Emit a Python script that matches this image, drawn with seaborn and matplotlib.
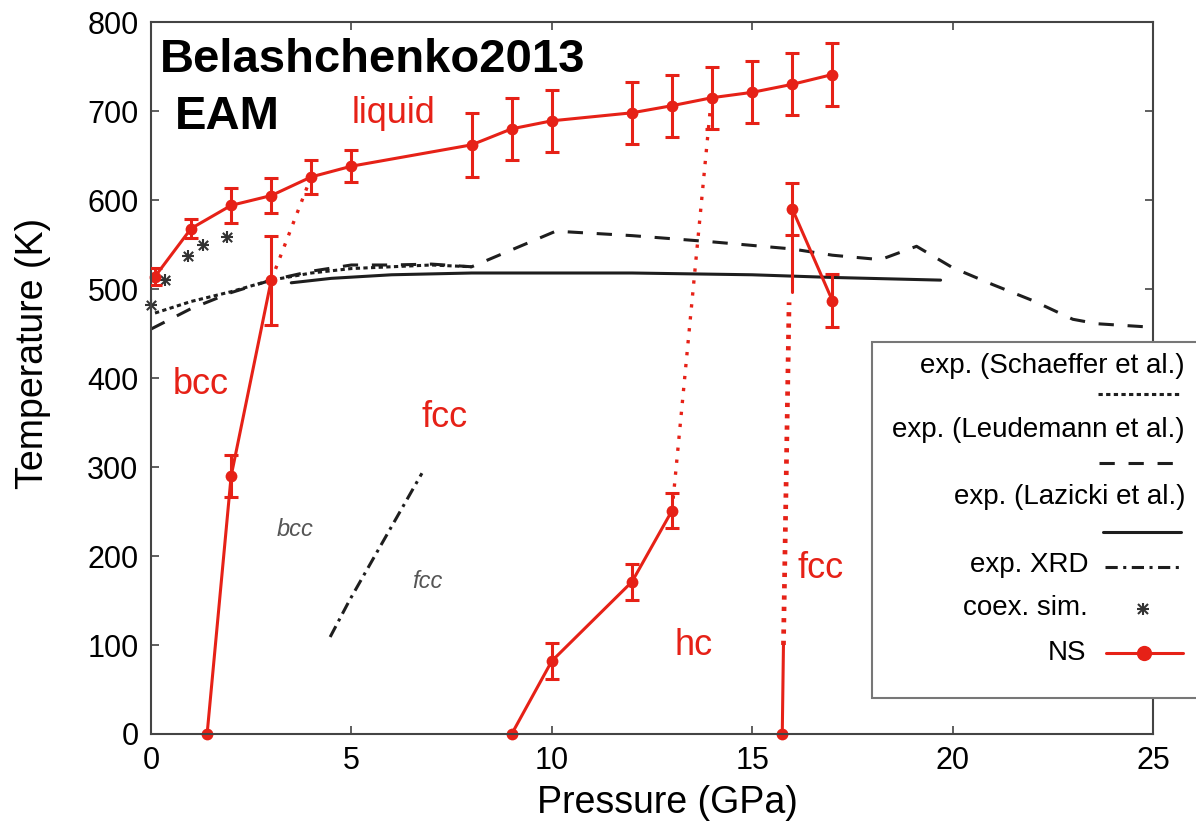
import matplotlib
matplotlib.use("Agg")
import matplotlib.pyplot as plt
import seaborn as sns
from matplotlib.lines import Line2D
from matplotlib.patches import Rectangle

# ---- data (pressure GPa, temperature K) ----
# nested sampling melting line
liq_p = [0.1, 1, 2, 3, 4, 5, 8, 9, 10, 12, 13, 14, 15, 16, 17]
liq_t = [514, 568, 594, 605, 626, 638, 662, 680, 689, 698, 706, 715, 721, 730, 741]
liq_err = [10, 11, 20, 20, 19, 18, 36, 35, 35, 35, 35, 35, 35, 35, 35]

# bcc-fcc boundary
bcc_p = [1.4, 2, 3]
bcc_t = [0, 290, 510]
bcc_err = [0, 24, 50]
bcc_liq_p = [3, 3.9]
bcc_liq_t = [510, 615]

# fcc-hcp boundary
hcp_p = [9, 10, 12, 13]
hcp_t = [0, 82, 171, 251]
hcp_err = [0, 20, 20, 20]
hcp_liq_p = [13, 13.95]
hcp_liq_t = [251, 700]

# high pressure fcc
fcc_p = [16, 17]
fcc_t = [590, 487]
fcc_err = [29, 30]
fcc_low_p = [15.75, 15.78]
fcc_low_t = [0, 100]
fcc_dot_p = [15.78, 15.92]
fcc_dot_t = [100, 485]
fcc_up_p = [16, 16]
fcc_up_t = [497, 590]

# experiments
schaeffer_p = [0.1, 1, 2, 3, 4, 5, 6, 7, 8]
schaeffer_t = [473, 486, 497, 510, 518, 523, 525, 527, 525]
leudemann_p = [0, 1, 2, 3, 4, 5, 6, 7, 8, 10.1, 12, 14, 16, 17, 18.2, 19.1, 20, 21, 22, 23, 23.6, 25]
leudemann_t = [455, 478, 496, 510, 520, 527, 527, 528, 525, 565, 560, 553, 545, 538, 533, 548, 524, 505, 487, 466, 461, 457]
lazicki_p = [3.5, 4.5, 6, 8, 12, 15, 17, 19.7]
lazicki_t = [507, 512, 516, 518, 518, 516, 513, 510]
xrd_p = [4.47, 4.95, 6.76]
xrd_t = [109, 150, 293]
coex_p = [0, 0.35, 0.92, 1.3, 1.9]
coex_t = [482, 510, 537, 549, 558]

RED = '#e62117'
INK = '#1e1e1e'

sns.set_style("ticks")
plt.rcParams['font.family'] = ['Liberation Sans', 'DejaVu Sans']
plt.rcParams['text.color'] = 'black'
plt.rcParams['axes.labelcolor'] = 'black'
plt.rcParams['xtick.labelcolor'] = 'black'
plt.rcParams['ytick.labelcolor'] = 'black'

fig = plt.figure(figsize=(11.96, 8.33), dpi=100)
ax = fig.add_axes([0.12625, 0.11885, 0.8378, 0.8547])

# experimental curves
sns.lineplot(x=schaeffer_p, y=schaeffer_t, ax=ax, color=INK, lw=2.2, sort=False,
             estimator=None, linestyle=(0, (1.4, 1.1)))
sns.lineplot(x=leudemann_p, y=leudemann_t, ax=ax, color=INK, lw=2.2, sort=False,
             estimator=None, linestyle=(0, (5, 4.5)))
sns.lineplot(x=lazicki_p, y=lazicki_t, ax=ax, color=INK, lw=2.2, sort=False, estimator=None)
sns.lineplot(x=xrd_p, y=xrd_t, ax=ax, color=INK, lw=2.2, sort=False, estimator=None,
             linestyle=(0, (4, 1.8, 1, 1.8)))
sns.scatterplot(x=coex_p, y=coex_t, ax=ax, marker='+', s=75, color='#333333', linewidth=1.5, clip_on=False)
sns.scatterplot(x=coex_p, y=coex_t, ax=ax, marker='x', s=45, color='#333333', linewidth=1.5, clip_on=False)

# NS lines
solid = dict(color=RED, lw=2.2, sort=False, estimator=None, clip_on=False)
dots = dict(marker='o', markersize=8.5, markeredgewidth=0)
sns.lineplot(x=liq_p, y=liq_t, ax=ax, **solid, **dots)
sns.lineplot(x=bcc_p, y=bcc_t, ax=ax, **solid, **dots)
sns.lineplot(x=hcp_p, y=hcp_t, ax=ax, **solid, **dots)
sns.lineplot(x=fcc_p, y=fcc_t, ax=ax, **solid, **dots)
sns.lineplot(x=fcc_low_p, y=fcc_low_t, ax=ax, **solid)
sns.lineplot(x=fcc_up_p, y=fcc_up_t, ax=ax, **solid)
sns.lineplot(x=fcc_low_p[:1], y=fcc_low_t[:1], ax=ax, **solid, **dots)
sns.lineplot(x=bcc_liq_p, y=bcc_liq_t, ax=ax, color=RED, lw=2.4, sort=False, estimator=None,
             linestyle=(0, (1, 2.6)))
sns.lineplot(x=hcp_liq_p, y=hcp_liq_t, ax=ax, color=RED, lw=2.4, sort=False, estimator=None,
             linestyle=(0, (1, 2.6)))
sns.lineplot(x=fcc_dot_p, y=fcc_dot_t, ax=ax, color=RED, lw=3.4, sort=False, estimator=None,
             linestyle=(0, (0.9, 1.5)), dash_capstyle='butt')

ebar = dict(fmt='none', ecolor=RED, elinewidth=2.2, capsize=5, capthick=2.2, zorder=3)
ax.errorbar(liq_p, liq_t, yerr=liq_err, **ebar)
ax.errorbar(bcc_p[1:], bcc_t[1:], yerr=bcc_err[1:], **ebar)
ax.errorbar(hcp_p[1:], hcp_t[1:], yerr=hcp_err[1:], **ebar)
ax.errorbar(fcc_p, fcc_t, yerr=fcc_err, **ebar)

# phase labels
ax.text(0.009, 0.930, "Belashchenko2013", transform=ax.transAxes, fontsize=34,
        fontweight='bold', va='baseline')
ax.text(0.024, 0.850, "EAM", transform=ax.transAxes, fontsize=34,
        fontweight='bold', va='baseline')
ax.text(5.01, 687, "liquid", color=RED, fontsize=26, va='baseline')
ax.text(0.55, 382, "bcc", color=RED, fontsize=26, va='baseline')
ax.text(6.76, 345, "fcc", color=RED, fontsize=26, va='baseline')
ax.text(13.07, 89, "hc", color=RED, fontsize=26, va='baseline')
ax.text(16.12, 175, "fcc", color=RED, fontsize=26, va='baseline')
ax.text(3.14, 222, "bcc", color='#555555', fontsize=17, style='italic', va='baseline')
ax.text(6.51, 164, "fcc", color='#555555', fontsize=17, style='italic', va='baseline')

ax.set_xlim(0, 25)
ax.set_ylim(0, 800)
ax.set_xticks(range(0, 26, 5))
ax.set_yticks(range(0, 801, 100))
ax.tick_params(direction='in', length=6, width=1.2, top=True, right=True,
               labelsize=22, pad=9, color='#444444')
for s in ax.spines.values():
    s.set_color('#444444')
    s.set_linewidth(1.5)
ax.set_xlabel("Pressure (GPa)", fontsize=27)
ax.set_ylabel("Temperature (K)", fontsize=27)
ax.xaxis.set_label_coords((667 - 151) / 1002, -0.072)
ax.yaxis.set_label_coords(-0.100, 0.535)


# ---- hand-made legend box (gnuplot style) ----
def fx(px):
    return px / 1196


def fy(py):
    return 1 - py / 833


fig.add_artist(Rectangle((fx(872), fy(698)), fx(340), (698 - 342) / 833,
                         transform=fig.transFigure, facecolor='white',
                         edgecolor='#777777', lw=1.5, zorder=5))
entries = [("exp. (Schaeffer et al.)", 1185, 366),
           ("exp. (Leudemann et al.)", 1185, 430),
           ("exp. (Lazicki et al.)", 1185, 497),
           ("exp. XRD", 1088, 565),
           ("coex. sim.", 1088, 608),
           ("NS", 1086, 653)]
for label, x, y in entries:
    fig.text(fx(x), fy(y), label, fontsize=20, ha='right', va='center', zorder=6)

samples = [((1098, 1182), 394, dict(linestyle=(0, (1.4, 1.1)))),
           ((1099, 1180), 463, dict(linestyle=(0, (5, 4.5)))),
           ((1103, 1181), 532, dict(linestyle='-')),
           ((1105, 1180), 567, dict(linestyle=(0, (4, 1.8, 1, 1.8))))]
for (x0, x1), y, style in samples:
    fig.add_artist(Line2D([fx(x0), fx(x1)], [fy(y), fy(y)], transform=fig.transFigure,
                          color=INK, lw=2.2, zorder=6, **style))
for m, ms in (('+', 9), ('x', 7)):
    fig.add_artist(Line2D([fx(1143)], [fy(609)], transform=fig.transFigure, marker=m,
                          markersize=ms, markeredgewidth=1.5, color='#333333', zorder=6))
fig.add_artist(Line2D([fx(1106), fx(1183)], [fy(653), fy(653)], transform=fig.transFigure,
                      color=RED, lw=2.2, zorder=6))
fig.add_artist(Line2D([fx(1144)], [fy(653)], transform=fig.transFigure, marker='o',
                      markersize=11, markeredgewidth=0, color=RED, zorder=6))

fig.savefig("out.png", dpi=100)
